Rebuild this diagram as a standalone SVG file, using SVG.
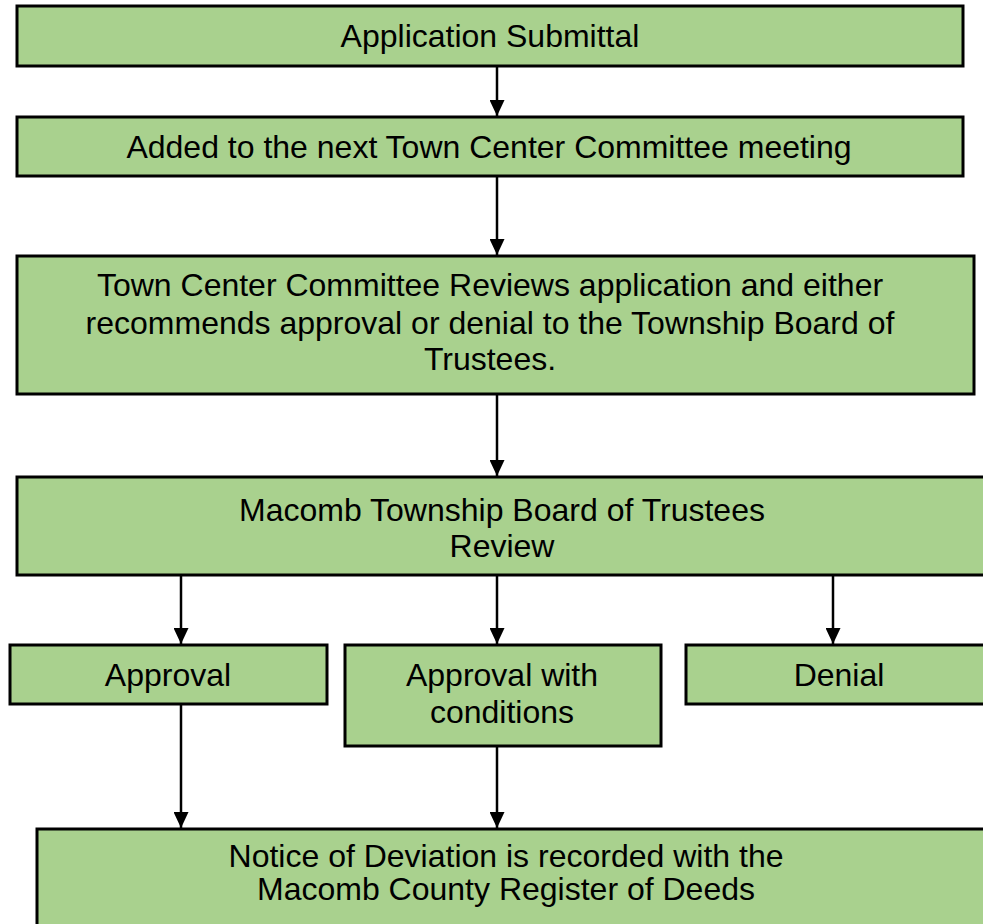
<svg xmlns="http://www.w3.org/2000/svg" width="983" height="924" viewBox="0 0 983 924">
<style>
.box{fill:#a9d18e;stroke:#000;stroke-width:3}
.t{font-family:"Liberation Sans",Arial,sans-serif;font-size:32px;fill:#000;text-anchor:middle}
.c{stroke:#000;stroke-width:2.5;fill:none;marker-end:url(#ah)}
</style>
<defs>
<marker id="ah" viewBox="0 0 16 15" refX="16" refY="7.5" markerWidth="16" markerHeight="15" markerUnits="userSpaceOnUse" orient="auto">
<path d="M0,0 L16,7.5 L0,15 Z" fill="#000"/>
</marker>
</defs>
<rect width="983" height="924" fill="#fff"/>
<g id="connectors">
<line class="c" x1="497" y1="66" x2="497" y2="116"/>
<line class="c" x1="497" y1="176" x2="497" y2="255"/>
<line class="c" x1="497" y1="395" x2="497" y2="476"/>
<line class="c" x1="181" y1="576" x2="181" y2="644"/>
<line class="c" x1="497" y1="576" x2="497" y2="644"/>
<line class="c" x1="833" y1="576" x2="833" y2="644"/>
<line class="c" x1="181" y1="705" x2="181" y2="828"/>
<line class="c" x1="497" y1="746" x2="497" y2="828"/>
</g>
<g id="n1">
<rect class="box" x="17" y="6" width="946" height="60"/>
<text class="t" x="490" y="47">Application Submittal</text>
</g>
<g id="n2">
<rect class="box" x="17" y="117" width="946" height="59"/>
<text class="t" x="489" y="158">Added to the next Town Center Committee meeting</text>
</g>
<g id="n3">
<rect class="box" x="17" y="256" width="957" height="138"/>
<text class="t" x="490" y="296">Town Center Committee Reviews application and either</text>
<text class="t" x="490" y="334">recommends approval or denial to the Township Board of</text>
<text class="t" x="490" y="370">Trustees.</text>
</g>
<g id="n4">
<rect class="box" x="17" y="477" width="968" height="98"/>
<text class="t" x="502" y="521">Macomb Township Board of Trustees</text>
<text class="t" x="502" y="557">Review</text>
</g>
<g id="n5">
<rect class="box" x="10" y="645" width="317" height="59"/>
<text class="t" x="168" y="686">Approval</text>
</g>
<g id="n6">
<rect class="box" x="345" y="645" width="316" height="101"/>
<text class="t" x="502" y="686">Approval with</text>
<text class="t" x="502" y="723">conditions</text>
</g>
<g id="n7">
<rect class="box" x="686" y="645" width="300" height="59"/>
<text class="t" x="839" y="686">Denial</text>
</g>
<g id="n8">
<rect class="box" x="37" y="829" width="950" height="100"/>
<text class="t" x="506" y="867">Notice of Deviation is recorded with the</text>
<text class="t" x="506" y="900">Macomb County Register of Deeds</text>
</g>
</svg>
